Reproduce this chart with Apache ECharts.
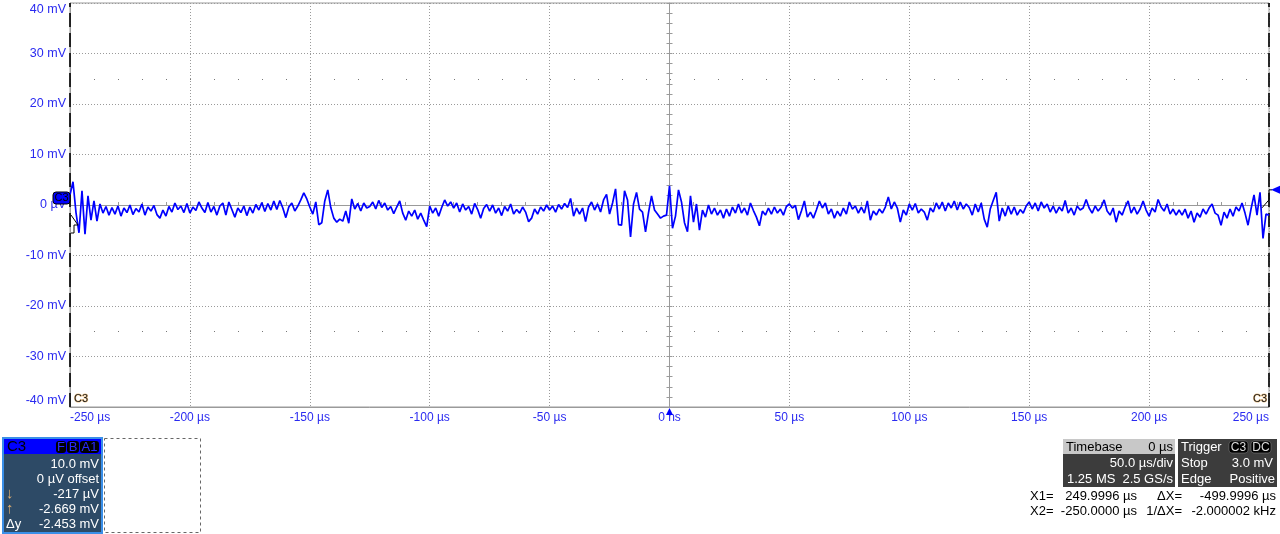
<!DOCTYPE html>
<html>
<head>
<meta charset="utf-8">
<script src="https://cdn.jsdelivr.net/npm/echarts@6/dist/echarts.min.js"></script>
<style>
html,body{margin:0;padding:0;background:#fff;}
#c{width:1280px;height:534px;}
</style>
</head>
<body>
<div id="c"></div>
<script>
// ---- data ----
const xTicksUs = [-250, -200, -150, -100, -50, 0, 50, 100, 150, 200, 250];
const yTicksMv = [-40, -30, -20, -10, 0, 10, 20, 30, 40];
const sampleStartUs = -250;
const sampleStepUs = 1.25;
const c3Mv = [
 2.0, 4.6, -1.5, -5.5, 2.8, -5.8, 1.8, -3.0, 0.8, -3.2, 0.2,
 -1.6, -0.3, -2.0, -0.5, -1.8, -0.2, -2.2, -0.6, -1.5, 0.0,
 -1.9, -0.7, -1.4, 0.2, -2.0, -0.4, -1.2, -0.1, -1.9, -2.6,
 -1.0, -2.2, -0.3, -1.4, 0.4, -0.9, -0.2, -1.5, 0.3, -1.6,
 -0.4, -1.1, 0.6, -0.6, -1.5, 0.5, -1.4, -0.3, -2.0, -0.2,
 0.4, -2.0, 0.6, -0.9, -2.4, -0.6, -1.5, -0.2, -2.1, -0.4,
 -1.6, 0.1, -1.0, 0.5, -1.3, 0.3, -1.0, 0.8, -0.9, 0.9,
 -0.6, -2.5, -0.4, 0.4, -1.2, -0.2, 1.0, 2.4, 1.2, -0.4,
 -1.8, 0.6, -3.9, -3.5, 0.8, 3.0, -0.5, -2.6, -3.4, -2.8,
 -3.2, -1.2, -3.6, 1.2, -0.8, 0.3, -1.2, 0.4, -0.6, -0.3,
 0.6, -0.8, 0.9, -0.5, 0.4, -1.0, -0.3, -1.7, -0.4, 0.8,
 -1.6, -3.0, -1.2, -2.2, -1.0, -2.8, -1.6, -3.0, -4.3, -0.2,
 -1.6, -0.6, -2.2, -0.5, 1.0, -0.2, 0.6, -0.6, 0.4, -1.4,
 0.2, -1.0, -0.3, -1.8, 0.3, -0.9, -2.6, -0.7, 0.1, -1.2,
 0.0, -1.6, -0.6, -2.1, -0.3, -1.2, 0.2, -1.8, -0.9, -1.6,
 -0.4, -1.4, -3.3, -2.6, -0.8, -1.8, -0.4, -1.2, 0.0, -1.0,
 -0.2, -1.4, 0.1, -0.8, 0.3, -0.5, 1.3, -2.2, -0.6, -1.8,
 -0.6, -3.3, -0.4, 0.6, -1.0, 0.2, -1.4, 1.0, 2.1, -1.8,
 0.4, 3.2, -3.9, -4.0, 2.8, 1.0, -6.3, 0.2, 2.5, -0.8,
 -1.4, -5.3, -1.5, 1.8, -1.0, -1.8, -2.6, -2.2, -2.0, 3.8,
 -4.6, -2.2, 3.0, 0.6, -3.5, -5.3, 1.8, -3.4, 0.2, -5.0,
 -1.0, -2.4, 0.0, -1.8, -0.6, -2.0, -1.0, -2.6, -0.8, -2.2,
 -0.4, -1.6, 0.2, -1.6, -0.6, -2.0, 0.4, -1.1, -2.4, -4.1,
 -1.2, -2.0, -0.6, -1.8, -0.4, -1.6, -0.8, -2.0, -0.3, 0.2,
 -0.6, -0.1, -2.9, -1.2, 0.8, -2.4, -1.4, -2.6, -1.0, 0.8,
 -0.6, 0.4, -1.8, -0.8, -2.6, -1.2, -2.2, -0.6, -1.8, 0.6,
 -0.8, -0.2, -1.6, -0.4, -1.6, 0.8, -3.0, -1.2, -2.0, -0.8,
 -1.6, -0.4, 1.6, -0.8, 0.6, -0.6, -3.4, -1.0, -2.0, 0.2,
 -1.0, 0.3, -1.6, -0.8, -1.4, -3.0, -0.6, -1.4, 0.4, -0.8,
 0.6, -1.2, 0.4, -0.6, 0.8, -1.0, 0.6, -0.8, 0.2, -0.5,
 -2.0, 0.2, -1.4, 0.4, -2.8, -4.4, -0.8, 0.9, 2.5, -3.2,
 -0.6, -2.2, -0.2, -1.8, -0.4, -2.0, -0.9, -1.6, -0.2, 0.6,
 -0.8, 0.4, -1.2, 0.6, -0.6, 0.2, -1.4, -0.2, -1.6, -0.4,
 -1.2, 0.9, -1.6, -0.6, -2.0, -0.2, -1.0, -0.6, 1.1, -0.6,
 -1.6, -0.2, -1.2, -0.4, 1.0, -1.2, -2.0, -0.6, -3.4, -1.2,
 -2.0, -0.4, 0.8, -1.6, -0.4, -1.8, -0.8, 0.8, -1.0, -2.2,
 -0.6, -1.4, 1.1, -0.4, -1.2, 0.2, -1.8, -0.8, -2.0, -1.0,
 -2.0, -0.8, -2.6, -1.2, -3.4, -1.6, -2.4, -0.8, -1.8, -0.6,
 0.2, -1.6, -2.0, -4.0, -1.4, -2.6, -0.8, -2.2, -0.4, -1.2,
 0.4, -1.6, -4.0, -0.8, 2.0, -2.0, 2.5, -6.6, -1.8, -2.0
];
const cursorX1Us = 249.9996;
const cursorX2Us = -250.0;
const triggerLevelMv = 3.0;
const dotRowsMv = [25, -25];

const channelPanel = ['10.0 mV', '0 µV offset', '-217 µV', '-2.669 mV', '-2.453 mV'];
const timebasePanel = {head: ['Timebase', '0 µs'], l1: '50.0 µs/div', l2: ['1.25 MS', '2.5 GS/s']};
const triggerPanel = {rows: [['Stop', '3.0 mV'], ['Edge', 'Positive']]};
const cursorRows = [
  ['X1=', '249.9996 µs', 'ΔX=', '-499.9996 µs'],
  ['X2=', '-250.0000 µs', '1/ΔX=', '-2.000002 kHz']
];

// ---- chart ----
const FONT = "'Liberation Sans', Arial, sans-serif";
const AX_BLUE = '#2a2af0';
const GRID_GRAY = '#9a9a9a';
const chart = echarts.init(document.getElementById('c'), null, {renderer: 'canvas'});
const seriesData = c3Mv.map((v, i) => [sampleStartUs + i * sampleStepUs, v]);
const xMin = xTicksUs[0], xMax = xTicksUs[xTicksUs.length - 1];
const yMin = yTicksMv[0], yMax = yTicksMv[yTicksMv.length - 1];

const option = {
  animation: false,
  backgroundColor: '#fff',
  textStyle: {fontFamily: FONT},
  grid: {left: 70, right: 11, top: 3, bottom: 127, show: true, borderColor: GRID_GRAY, borderWidth: 1, containLabel: false},
  xAxis: [{
    type: 'value', min: xMin, max: xMax, interval: 50, position: 'bottom',
    axisLine: {show: true, onZero: false, lineStyle: {color: GRID_GRAY}},
    axisTick: {show: false},
    axisLabel: {color: AX_BLUE, fontSize: 12, fontFamily: FONT, margin: 5,
      alignMinLabel: 'left', alignMaxLabel: 'right',
      formatter: v => v === 0 ? '0 ns' : v + ' µs'},
    splitLine: {show: true, lineStyle: {color: GRID_GRAY, type: [1, 2], width: 1}}
  }, {
    type: 'value', min: xMin, max: xMax, interval: 50, position: 'bottom',
    axisLine: {show: true, onZero: true, lineStyle: {color: GRID_GRAY}},
    axisTick: {show: true, inside: true, length: 3, lineStyle: {color: GRID_GRAY}},
    minorTick: {show: true, splitNumber: 5, length: 3, lineStyle: {color: GRID_GRAY}},
    axisLabel: {show: false}, splitLine: {show: false}
  }],
  yAxis: [{
    type: 'value', min: yMin, max: yMax, interval: 10, position: 'left',
    axisLine: {show: true, onZero: false, lineStyle: {color: GRID_GRAY}},
    axisTick: {show: false},
    axisLabel: {color: AX_BLUE, fontSize: 12.5, fontFamily: FONT, margin: 4,
      verticalAlignMinLabel: 'bottom', verticalAlignMaxLabel: 'top',
      formatter: v => v === 0 ? '0 µV' : v + ' mV'},
    splitLine: {show: true, lineStyle: {color: GRID_GRAY, type: [1, 2], width: 1}}
  }, {
    type: 'value', min: yMin, max: yMax, interval: 10, position: 'left',
    axisLine: {show: true, onZero: true, lineStyle: {color: GRID_GRAY}},
    axisTick: {show: true, inside: false, length: 3, lineStyle: {color: GRID_GRAY}},
    minorTick: {show: true, splitNumber: 5, length: 3, lineStyle: {color: GRID_GRAY}},
    axisLabel: {show: false}, splitLine: {show: false}
  }, {
    type: 'value', min: yMin, max: yMax, interval: 10, position: 'left',
    axisLine: {show: false, onZero: true},
    axisTick: {show: true, inside: true, length: 3, lineStyle: {color: GRID_GRAY}},
    minorTick: {show: true, splitNumber: 5, length: 3, lineStyle: {color: GRID_GRAY}},
    axisLabel: {show: false}, splitLine: {show: false}
  }],
  series: [{
    type: 'line', name: 'C3', xAxisIndex: 0, yAxisIndex: 0,
    data: seriesData, showSymbol: false, symbol: 'none',
    lineStyle: {color: '#0000ff', width: 1.7},
    z: 5, silent: true,
    markLine: {
      silent: true, symbol: 'none', animation: false,
      label: {show: false},
      data: [
        {yAxis: dotRowsMv[0], lineStyle: {color: '#777', type: [1, 23], width: 1}},
        {yAxis: dotRowsMv[1], lineStyle: {color: '#777', type: [1, 23], width: 1}},
        {xAxis: cursorX2Us, lineStyle: {color: '#000', type: [14, 6], width: 1.6}},
        {xAxis: cursorX1Us, lineStyle: {color: '#000', type: [14, 6], width: 1.6}}
      ]
    }
  }]
};
chart.setOption(option);

// ---- overlays (markers and readout panels) ----
const g = [];
function txt(x, y, s, opt) {
  g.push(Object.assign({type: 'text', x: x, y: y, z: 20,
    style: Object.assign({text: s, fill: '#000', font: '13px ' + FONT, textAlign: 'left', textVerticalAlign: 'middle'}, opt || {})}));
}
function rect(x, y, w, h, style, r) {
  g.push({type: 'rect', z: 15, shape: {x: x, y: y, width: w, height: h, r: r || 0}, style: style});
}

const p0 = chart.convertToPixel({xAxisIndex: 0, yAxisIndex: 0}, [0, 0]);
const pTrig = chart.convertToPixel({xAxisIndex: 0, yAxisIndex: 0}, [xMax, triggerLevelMv]);
const pEdge = chart.convertToPixel({xAxisIndex: 0, yAxisIndex: 0}, [xMin, yMin]);

// channel offset marker (left)
rect(53, p0[1] - 13, 17, 12, {fill: '#0000ff', stroke: '#000', lineWidth: 1}, 3);
txt(54.5, p0[1] - 7, 'C3', {font: '11px ' + FONT, fill: '#000'});
// trigger level marker (right)
g.push({type: 'polygon', z: 20, shape: {points: [[1271, pTrig[1]], [1280, pTrig[1] - 4], [1280, pTrig[1] + 4]]}, style: {fill: '#0000ff'}});
g.push({type: 'polyline', z: 19, shape: {points: [[1262, pTrig[1] + 18], [1269, pTrig[1] + 10], [1269, pTrig[1]], [1272, pTrig[1]]]}, style: {stroke: '#000', lineWidth: 1, fill: null}});
// trigger time marker (bottom, at 0)
g.push({type: 'polygon', z: 20, shape: {points: [[p0[0], pEdge[1] + 1], [p0[0] - 3.5, pEdge[1] + 8], [p0[0] + 3.5, pEdge[1] + 8]]}, style: {fill: '#0000ff'}});
// X2 cursor pointer near left edge
g.push({type: 'polyline', z: 19, shape: {points: [[71, p0[1] + 10], [78, p0[1] + 20], [74, p0[1] + 20], [74, p0[1] + 28], [71, p0[1] + 28]]}, style: {stroke: '#000', lineWidth: 1, fill: null}});
// channel tags inside plot
txt(74, pEdge[1] - 8, 'C3', {font: '11px ' + FONT, fill: '#1a1a1a', stroke: 'rgba(230,150,40,0.55)', lineWidth: 1});
txt(1267, pEdge[1] - 8, 'C3', {font: '11px ' + FONT, fill: '#1a1a1a', stroke: 'rgba(230,150,40,0.55)', lineWidth: 1, textAlign: 'right'});

// channel descriptor panel
rect(3, 438, 99, 95, {fill: '#2d4a66', stroke: '#3a8fe8', lineWidth: 2});
rect(4, 439, 97, 15, {fill: '#0000ff'});
txt(7, 447, 'C3', {font: '15px ' + FONT});
[['F', 56, 10], ['B', 67, 12], ['A1', 80, 19]].forEach(b => {
  rect(b[1], 441, b[2], 12, {fill: '#000'}, 3);
  txt(b[1] + b[2] / 2, 447.5, b[0], {font: '13px ' + FONT, fill: '#2a2aff', textAlign: 'center'});
});
const chY = [464, 479.5, 494, 509, 524];
channelPanel.forEach((s, i) => txt(99, chY[i], s, {fill: '#fff', textAlign: 'right'}));
txt(6, chY[2], '↓', {fill: '#e0b070', font: '15px ' + FONT});
txt(6, chY[3], '↑', {fill: '#e0b070', font: '15px ' + FONT});
txt(6, chY[4], 'Δy', {fill: '#fff'});
g.push({type: 'rect', z: 15, shape: {x: 104.5, y: 438.5, width: 96, height: 94}, style: {fill: null, stroke: '#666', lineWidth: 1, lineDash: [3, 3]}});

// timebase panel
rect(1063, 439, 112, 15, {fill: '#c8c8c8'});
rect(1063, 454, 112, 33, {fill: '#3c3c3c'});
txt(1066, 447, timebasePanel.head[0]);
txt(1173, 447, timebasePanel.head[1], {textAlign: 'right'});
txt(1173, 463, timebasePanel.l1, {fill: '#fff', textAlign: 'right'});
txt(1067, 479, timebasePanel.l2[0], {fill: '#fff'});
txt(1173, 479, timebasePanel.l2[1], {fill: '#fff', textAlign: 'right'});
// trigger panel
rect(1178, 439, 99, 48, {fill: '#3c3c3c'});
txt(1181, 447, 'Trigger', {fill: '#fff'});
[['C3', 1229, 19], ['DC', 1251, 20]].forEach(b => {
  rect(b[1], 441, b[2], 12, {fill: '#000', stroke: '#888', lineWidth: 0.5}, 3);
  txt(b[1] + b[2] / 2, 447.5, b[0], {fill: '#ddd', textAlign: 'center', font: '12px ' + FONT});
});
txt(1181, 463, triggerPanel.rows[0][0], {fill: '#fff'});
txt(1273, 463, triggerPanel.rows[0][1], {fill: '#fff', textAlign: 'right'});
txt(1181, 479, triggerPanel.rows[1][0], {fill: '#fff'});
txt(1275, 479, triggerPanel.rows[1][1], {fill: '#fff', textAlign: 'right'});
// cursor readouts
const crY = [496.5, 511.5];
cursorRows.forEach((r, i) => {
  txt(1030, crY[i], r[0]);
  txt(1137, crY[i], r[1], {textAlign: 'right'});
  txt(1182, crY[i], r[2], {textAlign: 'right'});
  txt(1276, crY[i], r[3], {textAlign: 'right'});
});

chart.setOption({graphic: {elements: g}});
</script>
</body>
</html>
